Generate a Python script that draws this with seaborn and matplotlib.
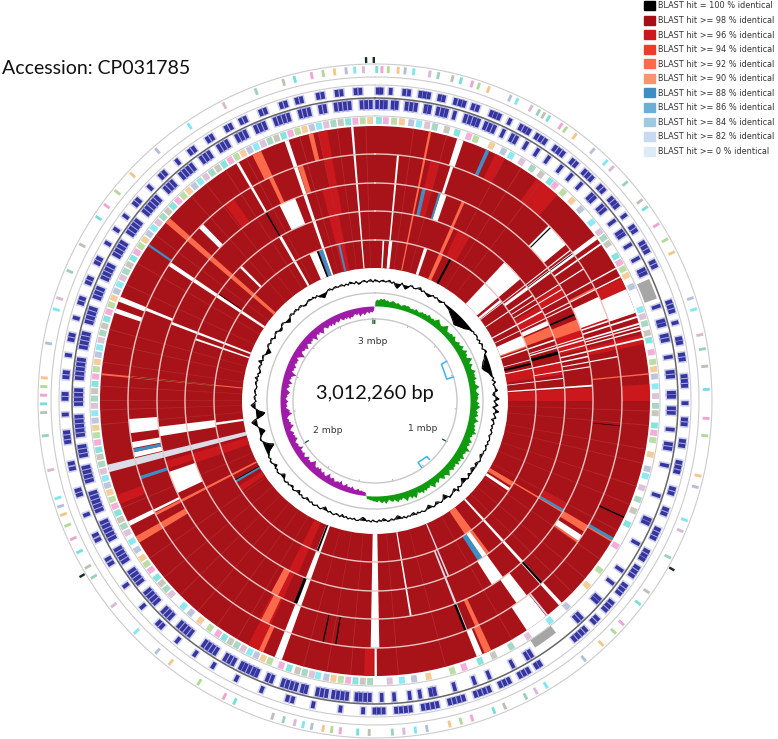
import numpy as np
import matplotlib
matplotlib.use('Agg')
import matplotlib.pyplot as plt
from matplotlib.patches import Patch
import seaborn as sns

sns.set_style('white')

# legend
legend_labels = ['BLAST hit = 100 % identical', 'BLAST hit >= 98 % identical', 'BLAST hit >= 96 % identical',
                 'BLAST hit >= 94 % identical', 'BLAST hit >= 92 % identical', 'BLAST hit >= 90 % identical',
                 'BLAST hit >= 88 % identical', 'BLAST hit >= 86 % identical', 'BLAST hit >= 84 % identical',
                 'BLAST hit >= 82 % identical', 'BLAST hit >= 0 % identical']
hit_colors = sns.color_palette(['#000000', '#a50f15', '#cb181d', '#ef3b2c', '#fb6a4a', '#fc9272',
                                '#3e8ec4', '#6baed6', '#9ecae1', '#c6dbef', '#deebf7'])

# radii of the five blast rings, read in pixels from the centre
ring_edges = [133, 161, 190, 218, 247, 275]

# (first ring, last ring, start deg, end deg), clockwise from the top
white_gaps = [(0, 4, 355, 355.5), (0, 3, 5.1, 5.6), (0, 0, 2.7, 3.3), (0, 0, 5, 6.2), (4, 4, 17.4, 18.8),
              (2, 2, 17.5, 19.2), (0, 0, 17.8, 19.0), (3, 3, 17.8, 18.5), (0, 4, 340.8, 341.7), (2, 2, 334, 338.5),
              (0, 0, 336, 339), (0, 1, 329.6, 330.5), (3, 4, 329.7, 330.3), (3, 3, 314.5, 315.8), (1, 1, 314.6, 315.4),
              (0, 3, 303.2, 304.2), (4, 4, 291.2, 292.3), (3, 3, 291.5, 292.2), (0, 2, 290.6, 291.3), (4, 4, 288.7, 289.7),
              (0, 1, 288.7, 289.3), (0, 0, 261.4, 262.3), (1, 2, 260.7, 263.2), (3, 3, 262.5, 265.8), (3, 3, 259, 260.4),
              (3, 3, 256.8, 258.0), (2, 2, 245, 251), (3, 3, 243.3, 243.9), (4, 4, 243, 244), (0, 3, 179, 181),
              (4, 4, 179.6, 180.1), (0, 4, 199.8, 201.4), (0, 2, 170.3, 170.8), (0, 4, 137.2, 138), (2, 2, 144, 147.5),
              (1, 1, 144, 146.5), (4, 4, 141.5, 146.5), (3, 3, 142, 145), (4, 4, 157, 158.3), (3, 3, 123, 124.5),
              (0, 0, 122.8, 124), (0, 2, 85.7, 86.2), (3, 3, 65, 70.5), (4, 4, 66, 71), (1, 1, 65, 66.5), (0, 0, 66, 70),
              (1, 1, 43, 50), (0, 0, 43, 50), (3, 3, 44.7, 50.7), (1, 4, 53, 54), (3, 4, 55, 55.4), (2, 4, 63, 63.3),
              (3, 4, 72, 72.4), (1, 4, 73.5, 73.9), (0, 4, 75, 75.3), (2, 4, 76.7, 77.1), (0, 2, 78, 78.4),
              (0, 1, 71, 71.5), (1, 2, 72.8, 73.1), (0, 0, 51, 52), (0, 1, 56, 56.4), (1, 2, 59, 59.3),
              (0, 2, 64, 64.3), (2, 3, 79.5, 79.8), (3, 4, 70.9, 71.3), (0, 3, 52.2, 52.5), (1, 3, 57.5, 57.8),
              (2, 4, 61, 61.3), (0, 1, 61.5, 62), (3, 4, 74.2, 74.5), (1, 2, 80.8, 81.1), (0, 1, 83, 83.3)]
lighter_bands = [(4, 4, 36, 41.5), (0, 2, 86.5, 90), (4, 4, 86.5, 90), (4, 4, 180.3, 182.3), (4, 4, 204, 207.5),
                 (2, 3, 205, 208), (0, 1, 204, 207), (4, 4, 63.5, 66), (2, 2, 58, 61), (1, 1, 60, 64), (1, 1, 26, 30),
                 (3, 3, 322.5, 325), (4, 4, 26, 28), (2, 2, 252, 254), (4, 4, 248, 250), (0, 1, 251, 254),
                 (0, 0, 236, 238), (0, 2, 346, 349), (2, 3, 13, 15), (2, 4, 348, 350),
                 (2, 2, 118, 120), (3, 3, 66, 71), (2, 2, 70, 76), (0, 1, 78, 82), (3, 4, 76, 78)]
orange_streaks = [(0, 4, 310.4, 311.7), (4, 4, 333.5, 335.5), (3, 3, 334.5, 335.5), (4, 4, 204, 205), (2, 2, 206.5, 208.5),
                  (3, 3, 205.5, 207.5), (4, 4, 239, 240.5), (3, 3, 239, 240.5), (0, 1, 143, 146), (0, 4, 120.3, 120.8),
                  (3, 3, 123.5, 125), (1, 1, 67, 70), (2, 2, 68, 71), (0, 0, 69, 70.5), (3, 3, 62.6, 63),
                  (0, 4, 275.4, 275.8), (0, 3, 242.4, 243.1), (1, 1, 23.5, 24.6), (0, 0, 23.5, 25), (2, 2, 23.5, 24.3),
                  (3, 3, 155, 156), (4, 4, 155, 156.5), (3, 3, 120.3, 122), (0, 0, 120.4, 122), (0, 4, 11.3, 11.8),
                  (3, 3, 341.8, 343), (4, 4, 346, 347), (3, 4, 84.2, 84.5)]
black_lines = [(2, 2, 329.8, 330.2), (0, 0, 338.7, 339.3), (0, 0, 27.6, 28.4), (4, 4, 114.9, 115.2), (3, 3, 137.2, 137.8),
               (3, 3, 158.2, 158.8), (3, 3, 189, 189.3), (3, 3, 192, 192.3), (2, 2, 201, 201.9), (0, 0, 200.6, 201.3),
               (1, 1, 74.8, 75.8), (2, 2, 66.3, 66.8), (0, 0, 76.2, 77), (3, 3, 95.7, 95.85), (1, 3, 275.55, 275.68),
               (0, 0, 240, 240.7), (3, 3, 45.2, 45.5), (2, 3, 53.2, 53.4), (1, 1, 304.3, 304.5)]
blue_wedges = [(0, 0, 346.7, 347.5), (0, 0, 339.5, 341), (2, 2, 12.5, 13.5), (2, 2, 17, 17.6), (4, 4, 23.8, 24.6),
               (4, 4, 119.8, 120.5), (2, 2, 119.8, 120.5), (1, 1, 145.5, 147.2), (0, 0, 239.6, 240.4),
               (3, 3, 258, 258.8), (3, 3, 251.5, 252.3), (4, 4, 304.3, 304.8)]
lavender_bands = [(0, 4, 255, 256.6), (1, 3, 158, 158.6), (0, 1, 157, 157.5), (4, 4, 141, 141.4)]
faint_lines = [8, 15, 28, 32, 37, 92, 95, 100, 103, 108, 112, 118, 125, 130, 134, 150, 165, 175, 185, 190, 195, 210,
               215, 220, 225, 230, 235, 247, 265, 268, 270, 273, 278, 282, 285, 295, 300, 307, 318, 322, 327, 332,
               344, 348, 352, 358]

# gene centres on the two coding rings, degrees
cds_inner = [0.4, 1.3, 2.1, 3.4, 4.2, 6.1, 7, 7.9, 9.8, 10.6, 12.2, 13.1, 13.9, 15.5, 17.7, 18.6, 19.5, 20.3, 21.8,
             22.7, 23.6, 25.5, 27.4, 28.3, 30.5, 33, 35.5, 38.5, 41, 43.5, 46.4, 47.2, 49.3, 50.2, 53, 55.4, 56.2, 58.5,
             61.5, 63.9, 64.7, 71.5, 74.4, 75.2, 77.3, 78.2, 81.5, 84.4, 85.3, 88.4, 89.2, 91.4, 92.3, 95.5, 98.3, 99.2,
             102.5, 108.5, 113.4, 114.2, 118.5, 124.5, 127.5, 131.4, 132.2, 136.4, 137.3, 148.4, 149.3, 152.5, 157.5,
             160.5, 164.5, 168.4, 169.2, 171.3, 173.3, 176.3, 178.7, 181, 181.9, 182.8, 183.6, 185.4, 186.3, 187.2,
             188.1, 189.4, 190.3, 191.2, 193.4, 194.2, 195.4, 196.3, 197.2, 198.1, 200.3, 201.2, 203.4, 204.2, 205.1,
             206, 206.8, 208.4, 209.3, 210.2, 212.4, 213.3, 214.2, 215.1, 218.4, 219.3, 220.2, 221.1, 223.4, 224.3, 225.2,
             227.4, 228.3, 229.2, 230.1, 232.4, 233.3, 234.2, 235.1, 237.4, 238.3, 239.2, 240.1, 242.4, 243.3, 244.2,
             245.1, 246, 248.4, 249.3, 250.2, 251.1, 252, 254.4, 255.3, 256.2, 257.1, 259.4, 260.3, 261.2, 263.4, 264.3,
             265.2, 266.1, 267, 269.4, 270.3, 271.2, 272.1, 274.4, 275.3, 276.2, 277.1, 278, 280.4, 281.3, 282.2, 283.1,
             285.4, 286.3, 287.2, 288.1, 290.4, 291.3, 292.2, 294.4, 295.3, 296.2, 297.1, 299.4, 300.3, 301.2, 302.1,
             304.4, 305.3, 306.2, 307.1, 309.4, 310.3, 311.2, 312.1, 313, 315.4, 316.3, 317.2, 319.4, 320.3, 321.2,
             322.1, 324.4, 325.3, 326.2, 328.4, 329.3, 330.2, 332.4, 333.3, 334.2, 336.4, 337.3, 338.2, 340.4, 341.3,
             342.2, 343.1, 345.4, 346.3, 347.2, 349.4, 350.3, 352.4, 353.3, 354.2, 355.1, 357.4, 358.3, 359.2]
cds_outer = [0.5, 1.2, 2.9, 5.4, 6.3, 8.4, 9.2, 10, 12, 12.8, 15, 15.9, 16.7, 18.4, 19.3, 22, 22.8, 23.6, 25.7, 28, 28.9,
             29.7, 31.4, 32.3, 33.2, 35.4, 36.3, 37.2, 39.4, 40.3, 42.4, 43.3, 44.2, 46.4, 47.3, 49.4, 50.3, 51.1, 53.4,
             55.9, 56.8, 59.4, 60.3, 61.2, 63.4, 64.3, 71.4, 72.3, 73.2, 75.4, 78.4, 79.2, 81.4, 82.3, 85.4, 86.3, 87.2,
             90.4, 93.4, 94.3, 97.4, 98.3, 101.4, 102.3, 103.2, 106.4, 107.3, 110.4, 111.3, 114.4, 115.3, 116.2, 118.9,
             119.8, 120.6, 122.4, 123.3, 124.2, 126.4, 127.3, 128.2, 130.4, 131.3, 132.2, 134.4, 135.3, 137.4, 138.3,
             139.2, 140.1, 147.9, 148.7, 150.4, 151.3, 152.2, 154.4, 155.3, 156.2, 158.4, 159.3, 160.2, 161.1, 163.4,
             164.3, 165.2, 166.1, 168.4, 169.3, 170.2, 171.1, 173.4, 174.3, 175.2, 176.1, 178.4, 179.3, 180.1, 182.2,
             186.4, 191.5, 195.4, 196.4, 201.4, 206.5, 211.4, 215.4, 219.5, 223.4, 224.3, 228.5, 233.5, 238.4, 239.4,
             243.4, 244.4, 248.5, 252.4, 253.3, 257.4, 258.4, 262.4, 263.3, 264.2, 267.5, 270.4, 271.3, 274.4, 275.3,
             278.5, 281.4, 282.3, 285.5, 288.4, 289.3, 292.4, 293.3, 296.4, 297.3, 300.5, 303.5, 306.5, 309.4, 310.3,
             313.5, 316.4, 317.3, 320.5, 323.4, 324.3, 327.4, 328.3, 331.4, 332.3, 334.4, 335.3, 338.4, 339.3, 342.4,
             343.3, 345.4, 346.3, 349.4, 350.3, 352.9, 353.8, 356.4, 357.3]

# other annotated features, mark centres in degrees
feature_marks = [0.8, 2.2, 3.9, 5.5, 7.4, 9, 10.7, 12.3, 14.8, 17, 19.5, 21, 24.5, 27.2, 29, 31.5, 34, 36.2, 38.5, 39.8,
                 42, 44.5, 47, 50.5, 53, 54.5, 56, 59, 60.5, 62, 63.5, 66, 71, 72.5, 74, 76, 77.5, 80, 82, 83.5, 85, 87,
                 89, 91, 92.5, 95, 96.5, 98, 101, 104, 105.5, 108, 110.5, 113, 116, 121, 127, 131, 137, 141.5, 147, 151,
                 155, 158, 161.5, 164, 169, 172, 174.5, 177, 181, 182.5, 184, 185.5, 187, 188.5, 190, 191.7, 193, 194.5,
                 196, 197.8, 199.5, 202, 203.5, 205, 206.5, 208, 209.5, 211, 212.5, 214, 216, 218.5, 221, 223, 226.5, 228,
                 229.5, 231, 233, 234.5, 236, 238, 240, 242, 243.5, 245, 246.5, 248, 249.5, 251, 252.5, 254, 255.5, 257,
                 258.5, 260, 261.5, 263, 264.5, 266, 267.5, 269, 270.5, 272, 273.5, 275, 276.5, 278, 279.5, 281, 282.5,
                 284, 285.5, 287, 288.5, 290, 291.5, 293, 294.5, 296, 297.5, 299, 300.5, 302, 303.5, 305, 306.5, 308,
                 309.5, 311, 312.5, 314, 315.5, 317, 318.5, 320, 321.5, 323, 324.5, 326, 327.5, 329, 330.5, 332, 333.5,
                 335, 336.5, 338, 339.5, 341, 342.5, 344, 345.5, 347, 348.5, 350, 351.5, 353, 354.5, 356, 357.5, 359]
outer_marks = [0.3, 1.2, 2.3, 4, 5.2, 6.7, 9.5, 11, 13.5, 15, 17, 18.2, 20, 24, 25.3, 28, 29.5, 30.5, 31.5, 34, 35,
               37, 41, 44, 45.5, 49, 53, 54.5, 58, 61, 63.5, 72, 74, 78.5, 81, 84, 88, 93,
               96, 103, 105, 111, 113, 118, 125, 127.5, 132, 134, 137, 141, 149, 151, 153,
               157, 159, 163, 165, 167, 171, 173, 175, 177, 181, 183, 186, 187.5, 189, 191, 192.5,
               194, 196, 198, 205, 207, 212, 218, 221, 226, 232, 238, 240, 243, 245.5, 248, 250, 251.5,
               253, 258, 264, 268, 269.5, 271, 272.5, 274, 280, 286, 288, 293, 298, 303.5, 306,
               309, 313, 319, 326, 333, 339, 344, 346, 349, 351, 353, 355, 356.5, 358]
gene_colors = ['#55d8d0', '#f08cc8', '#a0d080', '#f0b870', '#a0b0d0', '#60e0f0', '#d0a8c8', '#80c8a8', '#b0b0a0']

gray_blocks = [(287, 300, 66, 70), (285, 294, 142, 147)]
outer_ticks = [358.5, 359.8, 119.5, 239.2]
mbp_ticks = [0.2, 0.4, 0.6, 0.8, 1.2, 1.4, 1.6, 1.8, 2.2, 2.4, 2.6, 2.8]
mbp_labels = [('1 mbp', 423, 429), ('2 mbp', 328, 430), ('3 mbp', 373, 342)]
genome_length = 3012260

# gc content, one value per degree, px from the base line
gc_dev = [1, 0.5, -1, 0.5, 1, -0.5, 0.5, 1.5, -1, 0.5, -3, -5, -2, 1, -1.5, -4, -2, 0.5, 1, -1, -0.5, 1, 2, -1, 0.5, -1, -2, -3, -1, 0.5,
          -1, 0.5, -1, -2, -1, 0.5, -1, -1.5, -2, -2.5, -4, -5, -6, -7, -8, -9, -10, -9, -8, -7, -6, -5, -3, -1.5, -1, 0.5, -0.5, 1, 0.5, -1,
          1, -1, 1.5, 0.5, -1, 1, 2, -1, -2, -3, -5, -6, -7, -8, -7, -5, -3, -2, -1, 1, -1, 2, -1, 0.5, 1, 3, -1, -2, 1, 4,
          -1, 0.5, 3, -2, 0.5, 4, -1, 0.5, 2, -2, 0.5, 1, -1, 0.5, -1, 1, 0.5, -1, 0.5, 1, -0.5, 1, -1, 0.5, 1, -0.5, 0.5, -2, -1, 0.5,
          1, -1, -2, 0.5, -1, -3, -1, 0.5, -2, 0.5, 1, -2, -4, -1, 0.5, 1, -1, 3, -2, -1, 0.5, 1, 2, -1, -4, -1, 0.5, 1, -1, -2,
          0.5, 1, -1, -3, -1, 0.5, 1, -0.5, 0.5, -1, 1, -2, -1, 0.5, -0.5, 1, -1, 0.5, -2, -3, -1, 0.5, -1, 0.5, 1, -1, -2, 0.5, -1, 1,
          0.5, -1, 1, -0.5, 0.5, -2, -3, -1, 0.5, 1, -1, 0.5, -0.5, 1, -1, 0.5, -2, 1, -0.5, -1, 1, 0.5, -1, 0.5, -1, -3, -1, 1, 0.5, -1,
          0.5, 1, -1, 0.5, -1, -2, 0.5, 1, -1, 0.5, -3, -1, 0.5, 1, -2, -1, 0.5, -1, 1, 0.5, -2, -4, -1, 0.5, 1, -1, 0.5, -3, -1, 0.5,
          1, -1, 0.5, -1, -2, -4, -7, -10, -6, -3, -1, 1, 0.5, -1, -3, -6, -4, -1, 0.5, 3, 5, 2, -3, -7, -9, -4, -1, 2, 4, 1,
          -1, 0.5, 1, -1, 0.5, 1, -0.5, -1, 0.5, 1, -1, 2, -1, 0.5, -2, -1, 1, 0.5, -1, 3, -1, 0.5, 1, -1, -3, -5, -2, 0.5, 1, -1,
          0.5, 1, -2, -1, 0.5, 1, -1, -3, -2, 0.5, 1, -0.5, -2, -4, -2, 0.5, 1, -1, 0.5, 1, -1, 0.5, 1, -1, -2, -1, 0.5, 1, -0.5, 1,
          -1, 0.5, -2, -3, -5, -3, -1, 0.5, 1, -1, 0.5, 1, -0.5, 0.5, 1, -1, 0.5, -1, 1.5, 0.5, -1, 1, -2, -1, 0.5, 1, -1, 0.5, 1.5, -1]
# gc skew, one value per degree, green outwards and purple inwards
skew_dev = [5, 7, 6, 8, 7, 8, 6, 7, 5, 6, 7, 6, 5, 6, 5, 4, 5, 6, 5, 6, 5, 4, 5, 4, 6, 5, 4, 5, 6, 5,
            6, 5, 7, 6, 5, 6, 5, 7, 9, 7, 6, 5, 6, 8, 10, 7, 5, 6, 5, 7, 6, 8, 6, 5, 6, 8, 6, 7, 9, 6,
            7, 10, 7, 8, 6, 7, 11, 8, 6, 9, 7, 6, 7, 10, 7, 8, 7, 9, 6, 7, 6, 8, 10, 7, 6, 7, 9, 7, 8, 7,
            6, 9, 7, 10, 8, 6, 8, 7, 9, 6, 7, 10, 7, 6, 8, 7, 9, 8, 11, 7, 8, 6, 7, 10, 7, 9, 7, 8, 12, 8,
            9, 7, 8, 11, 7, 9, 7, 10, 6, 8, 7, 9, 7, 6, 8, 10, 7, 6, 9, 7, 5, 6, 8, 6, 7, 10, 7, 5, 7, 6,
            8, 6, 9, 6, 7, 5, 8, 10, 7, 9, 6, 7, 10, 7, 5, 7, 6, 8, 7, 5, 7, 6, 4, 6, 8, 5, 7, 6, 4, 6,
            5, 5, 4, 4, 3, 3, -3, -4, -4, -5, -4, -6, -5, -4, -5, -7, -5, -6, -5, -8, -6, -5, -6, -9, -6, -7, -6, -5, -7, -8,
            -6, -7, -10, -7, -5, -6, -8, -6, -7, -9, -7, -8, -6, -7, -9, -11, -8, -6, -7, -6, -9, -7, -5, -6, -8, -6, -7, -6, -10, -7,
            -6, -7, -6, -5, -7, -9, -7, -8, -6, -8, -7, -5, -6, -8, -10, -7, -8, -6, -7, -5, -6, -8, -11, -8, -9, -7, -5, -7, -6, -6,
            -8, -6, -5, -7, -6, -8, -9, -7, -5, -7, -8, -6, -10, -8, -6, -8, -7, -9, -12, -8, -6, -8, -7, -9, -7, -6, -8, -7, -8, -5,
            -7, -9, -12, -8, -6, -7, -8, -7, -10, -8, -6, -7, -9, -7, -8, -6, -8, -11, -7, -6, -8, -6, -8, -10, -7, -5, -6, -8, -7, -6,
            -8, -6, -9, -7, -6, -8, -7, -5, -7, -8, -6, -8, -6, -9, -7, -8, -6, -5, -7, -5, -9, -7, -6, -8, -6, -5, -7, -5, -6, -4]

gc_base = 120
skew_base = 95

fig = plt.figure(figsize=(7.78, 7.39), dpi=100)
# axes box is sized so that one radial unit is one pixel, centre at (375, 401)
rmax = 345
ax = fig.add_axes([(375 - rmax) / 778, (739 - 401 - rmax) / 739, 2 * rmax / 778, 2 * rmax / 739], projection='polar')
ax.set_theta_zero_location('N')
ax.set_theta_direction(-1)
ax.set_rlim(0, rmax)
ax.axis('off')
ax.patch.set_alpha(0)


def draw_spans(spans, color):
    for first, last, start, end in spans:
        ax.bar(np.radians((start + end) / 2), ring_edges[last + 1] - ring_edges[first], width=np.radians(end - start),
               bottom=ring_edges[first], color=color, linewidth=0)


def circle(radius, color, lw):
    ax.plot(np.radians(np.linspace(0, 360, 721)), np.full(721, radius), color=color, lw=lw)


# blast rings
ax.bar(0, ring_edges[-1] - ring_edges[0], width=2 * np.pi, bottom=ring_edges[0], color='#a8131a', linewidth=0)
draw_spans(lighter_bands, hit_colors[2])
for a in faint_lines:
    draw_spans([(0, 4, a, a + 0.2)], '#b32a2e')
draw_spans(orange_streaks, hit_colors[4])
draw_spans(white_gaps, 'white')
draw_spans(lavender_bands, '#dcdce8')
draw_spans(black_lines, 'black')
draw_spans(blue_wedges, hit_colors[6])
for r in ring_edges[1:-1]:
    circle(r, '#e8c4c0', 1.0)

# feature rings
for r in [285, 316, 324, 337]:
    circle(r, '#cccccc', 0.8)
for i, a in enumerate(feature_marks):
    ax.bar(np.radians(a), 7, width=np.radians(1.2), bottom=277, color=gene_colors[i % len(gene_colors)],
           alpha=0.7, linewidth=0)
# wide pale halo first, then the dark core of each gene
for a in cds_inner:
    ax.bar(np.radians(a), 12, width=np.radians(1.3), bottom=290.5, color='#2a2ab0', alpha=0.22, linewidth=0)
    ax.bar(np.radians(a), 9, width=np.radians(0.7), bottom=292, color='#10108c', alpha=0.8, linewidth=0)
for a in cds_outer:
    ax.bar(np.radians(a), 9, width=np.radians(1.3), bottom=305.5, color='#2a2ab0', alpha=0.22, linewidth=0)
    ax.bar(np.radians(a), 7, width=np.radians(0.7), bottom=306.5, color='#10108c', alpha=0.8, linewidth=0)
circle(303, '#666666', 1.1)
for i, a in enumerate(outer_marks):
    ax.bar(np.radians(a), 7, width=np.radians(0.5), bottom=328, color=gene_colors[i % len(gene_colors)],
           alpha=0.8, linewidth=0)
for r0, r1, start, end in gray_blocks:
    ax.bar(np.radians((start + end) / 2), r1 - r0, width=np.radians(end - start), bottom=r0, color='#a6a6a6', linewidth=0)
for a in outer_ticks:
    ax.bar(np.radians(a), 6, width=np.radians(0.4), bottom=338, color='#14301c', linewidth=0)

# gc content
gc_theta = np.radians(np.arange(len(gc_dev) + 1) * 360 / len(gc_dev))
gc_r = gc_base + np.array(gc_dev + gc_dev[:1])
ax.fill_between(gc_theta, gc_base, gc_r, color='black', linewidth=0)
sns.lineplot(x=gc_theta, y=gc_r, ax=ax, color='black', lw=0.8, sort=False, estimator=None, legend=False)

# gc skew
sk_theta = np.radians(np.arange(len(skew_dev) + 1) * 360 / len(skew_dev))
sk_r = skew_base + np.array(skew_dev + skew_dev[:1])
ax.fill_between(sk_theta[:187], skew_base, sk_r[:187], color='#109a10', linewidth=0)
ax.fill_between(sk_theta[186:], skew_base, sk_r[186:], color='#a01ca8', linewidth=0)
circle(108, '#c8c8c8', 1)
circle(82, '#c8c8c8', 1)

# size scale
for m in mbp_ticks:
    ax.bar(m / genome_length * 1e6 * 2 * np.pi, 2, width=np.radians(0.6), bottom=80, color='#999999', linewidth=0)
for a in outer_ticks:
    ax.bar(np.radians(a), 6, width=np.radians(0.9), bottom=77, color='#14501e', linewidth=0)
for t, r in [([61, 61, 73, 73], [82, 76, 75, 82]), ([137, 137, 145, 145], [80, 76, 75, 81])]:
    ax.plot(np.radians(t), r, color='#39b4f0', lw=1.1)
ax.set_rlim(0, rmax)
ax.axis('off')

for label, x, y in mbp_labels:
    fig.text(x / 778, 1 - y / 739, label, ha='center', va='center', fontsize=6.6, color='#333333', family='DejaVu Sans')
fig.text(375 / 778, 1 - 394 / 739, '3,012,260 bp', ha='center', va='center', fontsize=14.4, color='#111111', family='Lato')
fig.text(2 / 778, 1 - 68 / 739, 'Accession: CP031785', ha='left', va='center', fontsize=14, color='#111111', family='Lato')

handles = [Patch(color=c, label=l) for c, l in zip(hit_colors, legend_labels)]
fig.legend(handles=handles, loc='upper left', bbox_to_anchor=(637.5 / 778, 1 + 5.3 / 739), frameon=False,
           prop={'family': 'DejaVu Sans', 'size': 5.9}, handlelength=1.3, handleheight=1.3, handletextpad=0.4,
           labelspacing=0.65, labelcolor='#333333', borderpad=0.3)

fig.savefig('out.png', dpi=100)
